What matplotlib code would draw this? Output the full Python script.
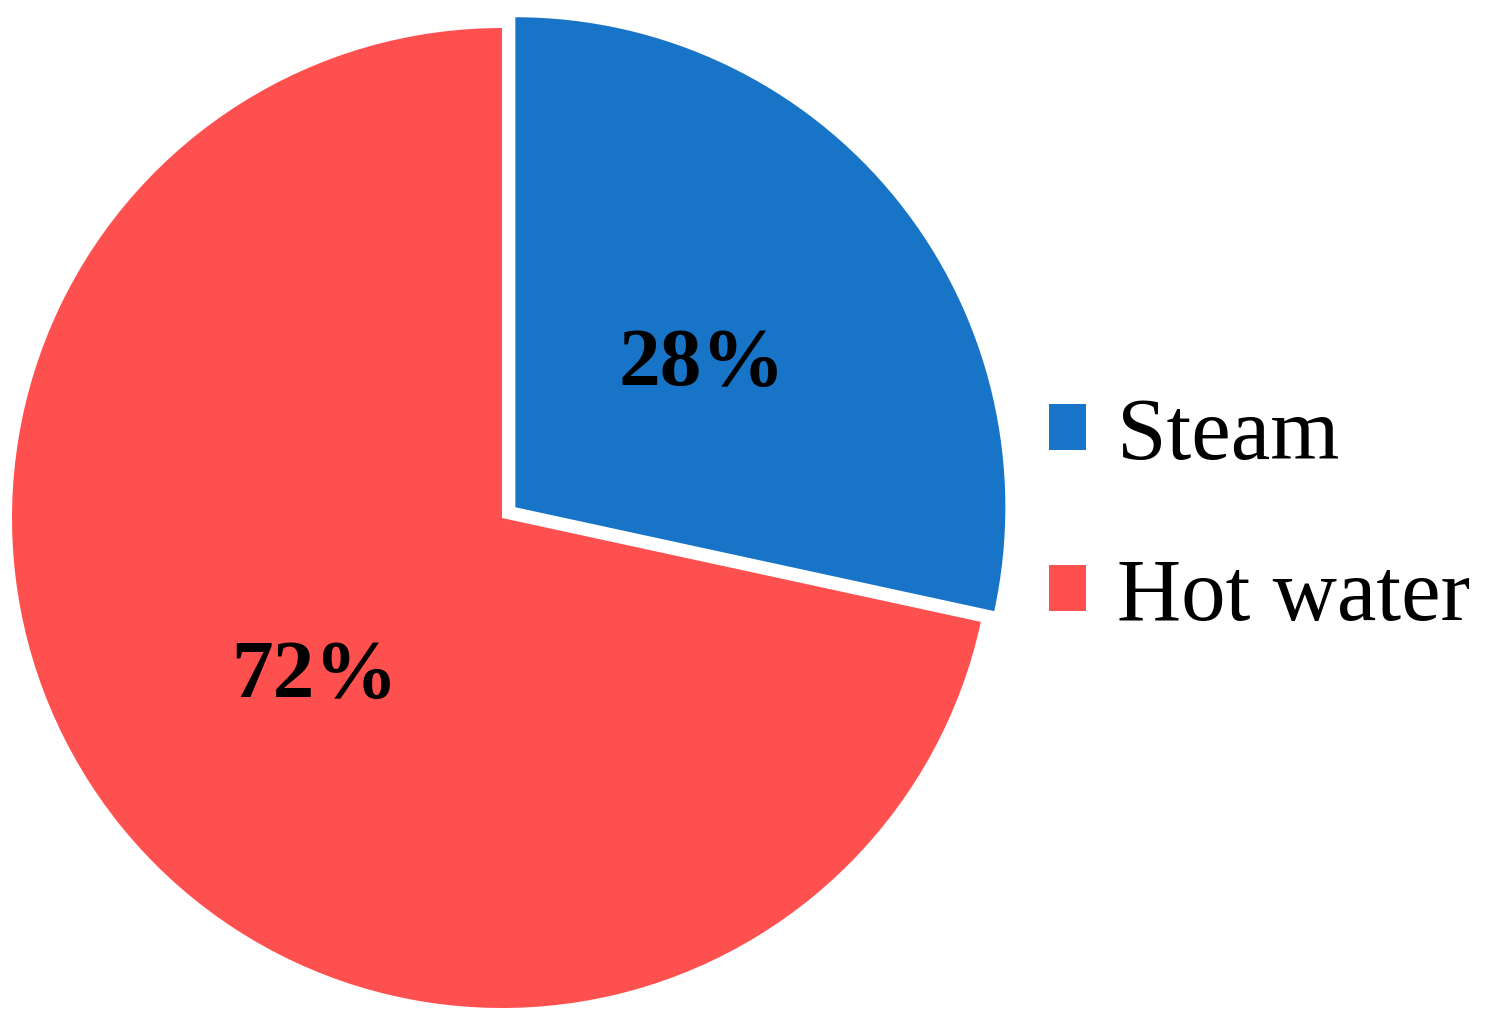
import matplotlib
matplotlib.use("Agg")
import matplotlib.pyplot as plt
from matplotlib.transforms import offset_copy

labels = ["Steam", "Hot water"]
values = [28.4, 71.6]
colors = ["#1874C6", "#FF5050"]
explode = [0.035, 0.0]

W, H = 1507, 1027
fig = plt.figure(figsize=(W / 100, H / 100), dpi=100)
cx, cy, r = 502, 518, 490
ax = fig.add_axes([(cx - r) / W, (H - cy - r) / H, 2 * r / W, 2 * r / H])

wedges, texts, autotexts = ax.pie(
    values, colors=colors, startangle=90, counterclock=False,
    explode=explode, autopct=lambda p: "%d%%" % round(p), pctdistance=0.49,
    textprops=dict(family="Liberation Serif", fontsize=60, fontweight="bold", color="black"),
)
for w in wedges:
    w.set_clip_on(False)
for t in autotexts:
    t.set_transform(offset_copy(t.get_transform(), fig=fig, x=0, y=-9, units="dots"))
ax.set_xlim(-1, 1)
ax.set_ylim(-1, 1)
ax.set_aspect("equal")
ax.axis("off")

leg = fig.legend(
    wedges, labels, loc="center left", bbox_to_anchor=(1049 / W, 1 - 518 / H),
    frameon=False, prop=dict(family="Liberation Serif", size=64),
    handlelength=0.42, handleheight=0.42, handletextpad=0.35, labelspacing=0.9,
    borderpad=0, borderaxespad=0,
)
fig.savefig("out.png", dpi=100)
